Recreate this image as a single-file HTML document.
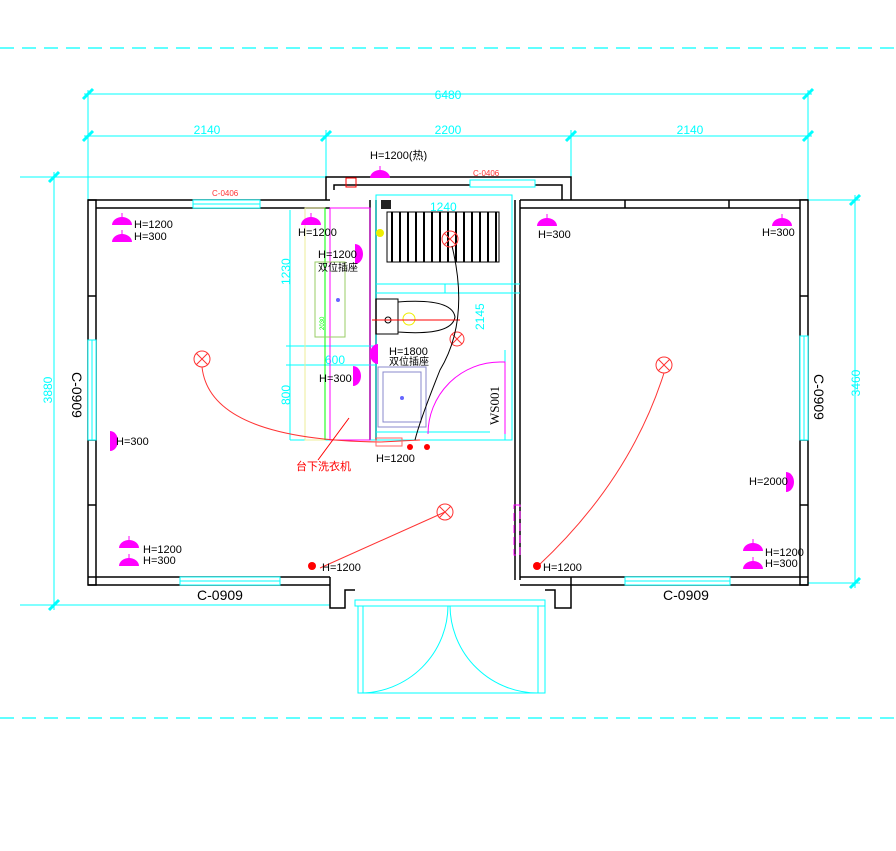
<!DOCTYPE html>
<html><head><meta charset="utf-8"><style>
html,body{margin:0;padding:0;background:#fff;}
svg{display:block;font-family:"Liberation Sans","Noto Sans CJK SC",sans-serif;}
</style></head><body>
<svg width="896" height="851" viewBox="0 0 896 851" xmlns="http://www.w3.org/2000/svg">
<defs>
<g id="dome"><path d="M-10 0 A10 8 0 0 1 10 0 Z" fill="#f0f"/><line x1="0" y1="-12" x2="0" y2="0" stroke="#f0f" stroke-width="1"/></g>
<g id="tick"><line x1="-5" y1="5" x2="5" y2="-5" stroke="#0ff" stroke-width="3"/></g>
</defs>
<line x1="0" y1="48" x2="896" y2="48" stroke="#0ff" stroke-width="1.2" stroke-dasharray="14,8"/>
<line x1="0" y1="718" x2="896" y2="718" stroke="#0ff" stroke-width="1.2" stroke-dasharray="14,8"/>
<g stroke="#0ff" stroke-width="1" fill="none">
<line x1="84" y1="94" x2="812" y2="94"/>
<line x1="84" y1="136" x2="812" y2="136"/>
<line x1="88" y1="90" x2="88" y2="200"/>
<line x1="808" y1="90" x2="808" y2="200"/>
<line x1="326" y1="130" x2="326" y2="177"/>
<line x1="571" y1="130" x2="571" y2="177"/>
<line x1="20" y1="177" x2="330" y2="177"/>
<line x1="54" y1="172" x2="54" y2="610"/>
<line x1="20" y1="605" x2="330" y2="605"/>
<line x1="808" y1="200" x2="860" y2="200"/>
<line x1="808" y1="583" x2="860" y2="583"/>
<line x1="855" y1="195" x2="855" y2="588"/>
</g>
<use href="#tick" x="88" y="94"/><use href="#tick" x="808" y="94"/>
<use href="#tick" x="88" y="136"/><use href="#tick" x="326" y="136"/><use href="#tick" x="571" y="136"/><use href="#tick" x="808" y="136"/>
<use href="#tick" x="54" y="177"/><use href="#tick" x="54" y="605"/>
<use href="#tick" x="855" y="200"/><use href="#tick" x="855" y="583"/>
<g fill="#0ff" font-size="12" text-anchor="middle">
<text x="448" y="99">6480</text>
<text x="207" y="134">2140</text><text x="448" y="134">2200</text><text x="690" y="134">2140</text>
<text transform="translate(52,390) rotate(-90)">3880</text>
<text transform="translate(860,383) rotate(-90)">3460</text>
</g>
<g stroke="#000" stroke-width="1.5" fill="none">
<rect x="88" y="200" width="8" height="385" fill="#fff"/>
<path d="M88 200 H330 M96 208 H330"/>
<path d="M520 200 H808 M520 208 H800"/>
<rect x="800" y="200" width="8" height="385" fill="#fff"/>
<path d="M88 577 H330 M88 585 H330 M520 577 H808 M520 585 H808"/>
<path d="M326 200 V177 H571 V200 M334 190 V185 H562 V200"/>
<path d="M370 200 V440 M376 200 V440"/>
<path d="M515 200 V580 M520 200 V580"/>
<path d="M330 577 V608 H345 V590 H355 M545 590 H555 V608 H571 V577"/>
<path d="M88 296 H96 M88 440 H96 M88 505 H96 M800 296 H808 M800 440 H808 M800 505 H808 M625 200 V208 M729 200 V208"/>
</g>
<g stroke="#0ff" stroke-width="1" fill="#fff">
<rect x="193" y="200" width="67" height="8"/><line x1="193" y1="204" x2="260" y2="204"/>
<rect x="180" y="577" width="100" height="8"/><line x1="180" y1="581" x2="280" y2="581"/>
<rect x="625" y="577" width="105" height="8"/><line x1="625" y1="581" x2="730" y2="581"/>
<rect x="88" y="340" width="8" height="100"/><line x1="92" y1="340" x2="92" y2="440"/>
<rect x="800" y="336" width="8" height="104"/><line x1="804" y1="336" x2="804" y2="440"/>
<rect x="470" y="180" width="65" height="7"/>
</g>
<g fill="#f33" font-size="8"><text x="212" y="196">C-0406</text><text x="473" y="176">C-0406</text></g>
<g fill="#000" font-size="14" text-anchor="middle">
<text x="220" y="600">C-0909</text><text x="686" y="600">C-0909</text>
<text transform="translate(72,395) rotate(90)">C-0909</text>
<text transform="translate(814,397) rotate(90)">C-0909</text>
</g>
<g stroke="#0ff" stroke-width="1" fill="none">
<rect x="355" y="600" width="190" height="6"/>
<path d="M358 606 V693 H545 V606 M363 606 V693 M538 606 V693"/>
<path d="M448 606 A88 88 0 0 1 360 693 M450 606 A88 88 0 0 0 540 693"/>
</g>
<rect x="514" y="505" width="6" height="50" fill="none" stroke="#f0f" stroke-dasharray="8,4"/>
<g stroke="#0ff" stroke-width="1" fill="none">
<rect x="376" y="195" width="136" height="245"/>
<path d="M376 284 H520 M376 293 H520 M445 284 V293"/>
<line x1="286" y1="346" x2="376" y2="346"/><line x1="286" y1="365" x2="376" y2="365"/>
<line x1="290" y1="210" x2="290" y2="440"/><line x1="290" y1="440" x2="376" y2="440"/>
<line x1="376" y1="432" x2="490" y2="432"/>
<line x1="505" y1="350" x2="505" y2="440"/>
</g>
<g fill="#0ff" font-size="12">
<text x="430" y="211">1240</text><text x="325" y="364">600</text>
<text transform="translate(290,285) rotate(-90)">1230</text>
<text transform="translate(290,405) rotate(-90)">800</text>
<text transform="translate(484,330) rotate(-90)">2145</text>
</g>
<text transform="translate(499,425) rotate(-90)" font-family="Liberation Serif" font-size="13">WS001</text>
<rect x="305" y="208" width="20" height="232" fill="none" stroke="#ee9" stroke-width="1"/>
<line x1="325" y1="208" x2="325" y2="440" stroke="#0f0" stroke-width="1"/>
<rect x="330" y="208" width="40" height="232" fill="none" stroke="#f0f" stroke-width="1"/>
<rect x="315" y="262" width="30" height="75" fill="none" stroke="#9c6" stroke-width="1"/>
<circle cx="338" cy="300" r="2" fill="#66f"/>
<text transform="translate(324,330) rotate(-90)" fill="#0f0" font-size="6">2030</text>
<rect x="387" y="212" width="112" height="50" fill="#fff" stroke="#000"/>
<g stroke="#000" stroke-width="2">
<line x1="392" y1="212" x2="392" y2="262"/><line x1="400" y1="212" x2="400" y2="262"/><line x1="408" y1="212" x2="408" y2="262"/><line x1="416" y1="212" x2="416" y2="262"/><line x1="424" y1="212" x2="424" y2="262"/><line x1="432" y1="212" x2="432" y2="262"/><line x1="440" y1="212" x2="440" y2="262"/><line x1="448" y1="212" x2="448" y2="262"/><line x1="456" y1="212" x2="456" y2="262"/><line x1="464" y1="212" x2="464" y2="262"/><line x1="472" y1="212" x2="472" y2="262"/><line x1="480" y1="212" x2="480" y2="262"/><line x1="488" y1="212" x2="488" y2="262"/><line x1="496" y1="212" x2="496" y2="262"/>
</g>
<rect x="381" y="200" width="10" height="9" fill="#222"/>
<circle cx="380" cy="233" r="4" fill="#ee0"/>
<g stroke="#000" fill="none" stroke-width="1">
<rect x="376" y="299" width="22" height="35"/>
<path d="M398 302 Q452 298 455 317 Q452 336 398 332 Z"/>
<circle cx="388" cy="320" r="3"/>
</g>
<circle cx="409" cy="319" r="6" fill="none" stroke="#ee0"/>
<line x1="372" y1="320" x2="460" y2="320" stroke="#f00"/>
<rect x="378" y="367" width="48" height="60" fill="none" stroke="#88c"/>
<rect x="383" y="372" width="38" height="50" fill="none" stroke="#88c"/>
<circle cx="402" cy="398" r="2" fill="#66f"/>
<path d="M428 434 A72 72 0 0 1 500 362 H505 V434" fill="none" stroke="#f0f"/>
<g stroke="#f33" fill="none" stroke-width="1">
<circle cx="202" cy="359" r="8"/><path d="M196 353 L208 365 M208 353 L196 365"/>
<circle cx="664" cy="365" r="8"/><path d="M658 359 L670 371 M670 359 L658 371"/>
<circle cx="445" cy="512" r="8"/><path d="M439 506 L451 518 M451 506 L439 518"/>
<circle cx="450" cy="239" r="8"/><path d="M444 233 L456 245 M456 233 L444 245"/>
<circle cx="457" cy="339" r="7"/><path d="M452 334 L462 344 M462 334 L452 344"/>
<path d="M202 367 Q210 440 380 442 L420 440"/>
<path d="M664 373 Q630 480 538 566"/>
<path d="M445 512 L320 568"/>
</g>
<path d="M452 246 Q470 320 440 370 Q420 420 415 440" fill="none" stroke="#000"/>
<g fill="#f00"><circle cx="312" cy="566" r="4"/><circle cx="537" cy="566" r="4"/><circle cx="410" cy="447" r="3"/><circle cx="427" cy="447" r="3"/></g>
<rect x="376" y="438" width="26" height="8" fill="none" stroke="#f66"/>
<line x1="349" y1="418" x2="318" y2="460" stroke="#f00"/>
<text x="296" y="470" fill="#f00" font-size="11">台下洗衣机</text>
<use href="#dome" x="122" y="225"/><use href="#dome" x="122" y="242"/>
<use href="#dome" x="311" y="225"/>
<use href="#dome" x="380" y="178"/>
<use href="#dome" x="547" y="226"/><use href="#dome" x="782" y="226"/>
<use href="#dome" x="129" y="548"/><use href="#dome" x="129" y="566"/>
<use href="#dome" x="753" y="551"/><use href="#dome" x="753" y="569"/>
<g fill="#f0f">
<path d="M355 244 A8 10 0 0 1 355 264 Z"/><path d="M353 366 A8 10 0 0 1 353 386 Z"/>
<path d="M378 344 A8 10 0 0 0 378 364 Z"/><path d="M110 431 A8 10 0 0 1 110 451 Z"/>
<path d="M786 472 A8 10 0 0 1 786 492 Z"/>
</g>
<g fill="#000" font-size="11">
<text x="370" y="159">H=1200(热)</text>
<text x="134" y="228">H=1200</text><text x="134" y="240">H=300</text>
<text x="298" y="236">H=1200</text>
<text x="318" y="258">H=1200</text><text x="318" y="271" font-size="10">双位插座</text>
<text x="389" y="355">H=1800</text><text x="389" y="365" font-size="10">双位插座</text>
<text x="319" y="382">H=300</text>
<text x="116" y="445">H=300</text>
<text x="376" y="462">H=1200</text>
<text x="143" y="553">H=1200</text><text x="143" y="564">H=300</text>
<text x="322" y="571">H=1200</text><text x="543" y="571">H=1200</text>
<text x="538" y="238">H=300</text><text x="762" y="236">H=300</text>
<text x="749" y="485">H=2000</text>
<text x="765" y="556">H=1200</text><text x="765" y="567">H=300</text>
</g>
<rect x="346" y="178" width="10" height="9" fill="none" stroke="#f00"/>
</svg>
</body></html>
